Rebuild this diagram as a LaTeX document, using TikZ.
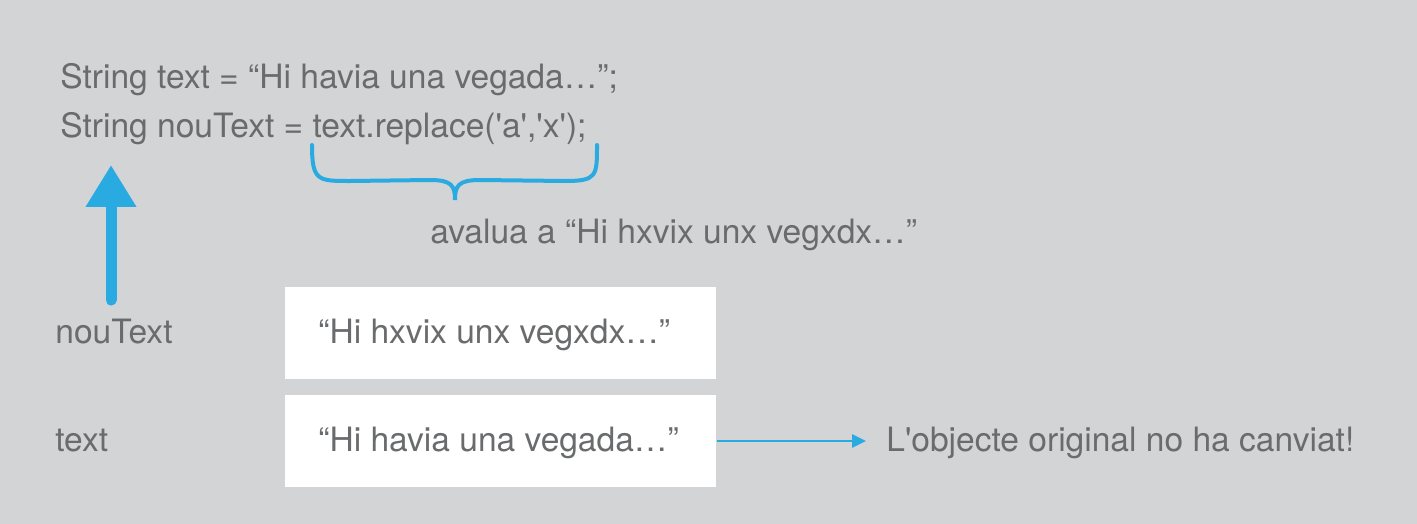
\documentclass[tikz,border=0pt]{standalone}
\usepackage{fontspec}
\setmainfont{TeX Gyre Heros}
\usepackage{tikz}
\usetikzlibrary{positioning}
\usetikzlibrary{arrows.meta}
\definecolor{bg}{HTML}{D3D4D6}
\definecolor{txt}{HTML}{6A6B6D}
\definecolor{blu}{HTML}{29ABE2}

\begin{document}
\begin{tikzpicture}[x=0.02cm, y=-0.02cm,
			label/.style={anchor=base west, inner sep=0pt, text=txt, font=\fontsize{19.1}{22}\selectfont},
			internal/.style={fill=white, minimum width=8.62cm, minimum height=1.83cm, inner sep=0pt, anchor=north west},
			every text node part/.style={align=left}]
			\fill[bg] (0,0) rectangle (1417,524);
			\useasboundingbox (0,0) rectangle (1417,524);

			\node[label](node1) at (60, 88) {String text = “Hi havia una vegada…”;};
			\node[label](node2) at (60, 137) {String nouText = text.replace(\textquotesingle a\textquotesingle,\textquotesingle x\textquotesingle);};
			\node[label](node3) at (430, 243) {avalua a “Hi hxvix unx vegxdx…”};

			\node[internal](node4) at (285, 287) {};
			\node[label] at (318, 343) {“Hi hxvix unx vegxdx…”};
			\node[internal](node5) at (285, 395) {};
			\node[label] at (318, 451) {“Hi havia una vegada…”};

			\node[label](node6) at (55, 343) {nouText};
			\node[label](node7) at (55, 451) {text};
			\node[label](node8) at (886, 451) {L\textquotesingle objecte original no ha canviat!};

			\coordinate (start) at (111, 300);
			\coordinate (tip) at (111, 165);
			\draw[blu, line width=0.22cm, line cap=round, -{Triangle[width=0.96cm, length=0.84cm]}] (start) -- (tip);

			\draw[blu, line width=1.6pt, -{Triangle[width=0.26cm, length=0.28cm]}] (node5.east |- 0,441) -- ([xshift=-0.4cm]node8.west |- 0,441);

			% brace under the replace call
			\draw[blu, line width=0.08cm, line cap=round] (312,145) .. controls (312,181) and (318,181) .. (350,181) -- (430,180) .. controls (452,180) and (455,186) .. (455,200)
				.. controls (455,186) and (458,180) .. (480,180) -- (565,181) .. controls (597,181) and (597,176) .. (597,145);
\end{tikzpicture}
\end{document}
